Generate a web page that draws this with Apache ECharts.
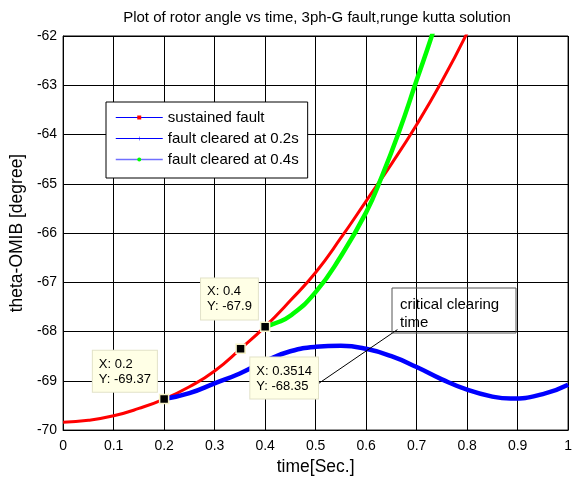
<!DOCTYPE html>
<html>
<head>
    <meta charset="utf-8">
    <title>rotor angle</title>
    <script src="https://cdn.jsdelivr.net/npm/echarts@6/dist/echarts.min.js"></script>
    <style>
        html, body { margin: 0; padding: 0; background: #fff; }
    </style>
</head>
<body>
<div id="main" style="width: 575px;height:481px;"></div>
<script type="text/javascript">
    // values: [time, theta]
    var sustainedT = [0, 0.05, 0.1, 0.15, 0.2, 0.25, 0.3, 0.3514, 0.4, 0.45, 0.5, 0.55, 0.6, 0.65, 0.7, 0.75, 0.8];
    var sustainedV = [-69.84, -69.8, -69.71, -69.56, -69.37, -69.12, -68.8, -68.35, -67.9, -67.37, -66.8, -66.1, -65.35, -64.6, -63.8, -62.92, -61.94];

    var cleared02T = [0.2, 0.25, 0.3, 0.35, 0.4, 0.45, 0.5, 0.55, 0.6, 0.65, 0.7, 0.75, 0.8, 0.85, 0.886, 0.95, 1.0];
    var cleared02V = [-69.37, -69.25, -69.05, -68.85, -68.6, -68.4, -68.31, -68.29, -68.35, -68.5, -68.72, -68.97, -69.18, -69.32, -69.36, -69.27, -69.08];

    var cleared04T = [0.4, 0.42, 0.45, 0.5, 0.55, 0.6, 0.63, 0.665, 0.7, 0.73, 0.74];
    var cleared04V = [-67.9, -67.83, -67.68, -67.2, -66.47, -65.58, -64.88, -63.95, -62.9, -62.0, -61.65];

    // data tips
    var tipT = [0.2, 0.3514, 0.4];
    var tipV = [-69.37, -68.35, -67.9];

    var xTicks = ['0', '0.1', '0.2', '0.3', '0.4', '0.5', '0.6', '0.7', '0.8', '0.9', '1'];

    function pairs(t, v) {
        return t.map(function (x, i) { return [x, v[i]]; });
    }

    var font = '"Liberation Sans", Arial, Helvetica, sans-serif';

    var tipData = tipT.map(function (x, i) {
        var below = (x === 0.3514);
        return {
            value: [x, tipV[i]],
            label: below
                ? { position: [15, 14], align: 'left', verticalAlign: 'top' }
                : { position: [-2, -2], align: 'right', verticalAlign: 'bottom' }
        };
    });

    var myChart = echarts.init(document.getElementById('main'));

    var option = {
        animation: false,
        textStyle: { fontFamily: font },
        title: {
            text: 'Plot of rotor angle vs time, 3ph-G fault,runge kutta solution',
            left: 317,
            top: 10,
            padding: 0,
            textAlign: 'center',
            textStyle: { fontSize: 15, fontWeight: 'normal', color: '#000', fontFamily: font }
        },
        grid: {
            left: 62, right: 2, top: 36, bottom: 45,
            show: true, borderColor: '#000', borderWidth: 1
        },
        legend: {
            orient: 'vertical',
            left: 106,
            top: 102,
            itemWidth: 47,
            itemHeight: 5,
            itemGap: 6,
            padding: [8, 9, 11, 9],
            borderColor: '#000',
            borderWidth: 1,
            borderRadius: 0,
            backgroundColor: '#fff',
            textStyle: { fontSize: 15, color: '#000', fontFamily: font },
            data: [
                { name: 'sustained fault', lineStyle: { color: '#0000ff', width: 1 }, itemStyle: { color: '#ff0000' } },
                { name: 'fault cleared at 0.2s', lineStyle: { color: '#0000ff', width: 1 }, itemStyle: { color: '#0000ff' } },
                { name: 'fault cleared at 0.4s', lineStyle: { color: '#6f6fff', width: 1.5 }, itemStyle: { color: '#00ff00' } }
            ]
        },
        xAxis: {
            type: 'value',
            min: 0, max: 1, interval: 0.1,
            name: 'time[Sec.]',
            nameLocation: 'middle',
            nameGap: 26,
            nameTextStyle: { fontSize: 17.5, color: '#000', fontFamily: font },
            axisLine: { lineStyle: { color: '#000' } },
            axisTick: { show: false },
            axisLabel: {
                fontSize: 14, color: '#000', margin: 9,
                formatter: function (v) { return xTicks[Math.round(v * 10)]; }
            },
            splitLine: { lineStyle: { color: '#000', width: 1 } }
        },
        yAxis: {
            type: 'value',
            min: -70, max: -62, interval: 1,
            name: 'theta-OMIB [degree]',
            nameLocation: 'middle',
            nameGap: 31,
            nameTextStyle: { fontSize: 17.5, color: '#000', fontFamily: font },
            axisLine: { show: true, lineStyle: { color: '#000' } },
            axisTick: { show: false },
            axisLabel: { fontSize: 14, color: '#000', margin: 6 },
            splitLine: { lineStyle: { color: '#000', width: 1 } }
        },
        series: [
            {
                name: 'sustained fault',
                type: 'line',
                smooth: true,
                symbol: 'path://M0,0h4v4h-4z',
                showSymbol: false,
                lineStyle: { color: '#ff0000', width: 3 },
                itemStyle: { color: '#ff0000' },
                data: pairs(sustainedT, sustainedV)
            },
            {
                name: 'fault cleared at 0.2s',
                type: 'line',
                smooth: true,
                symbol: 'path://M4,0h1v4h4v1h-4v4h-1v-4h-4v-1h4z',
                showSymbol: false,
                lineStyle: { color: '#0000ff', width: 4.5 },
                itemStyle: { color: '#0000ff' },
                data: pairs(cleared02T, cleared02V)
            },
            {
                name: 'fault cleared at 0.4s',
                type: 'line',
                smooth: true,
                symbol: 'circle',
                showSymbol: false,
                lineStyle: { color: '#00ff00', width: 4.5 },
                itemStyle: { color: '#00ff00' },
                data: pairs(cleared04T, cleared04V)
            },
            {
                name: 'tips',
                type: 'scatter',
                symbol: 'rect',
                symbolSize: 9,
                z: 10,
                itemStyle: { color: '#000', borderColor: '#f6f2c8', borderWidth: 1.5, opacity: 1 },
                label: {
                    show: true,
                    color: '#000',
                    backgroundColor: '#ffffe6',
                    borderColor: '#e2e2c8',
                    borderWidth: 1,
                    padding: [6, 6, 5, 6],
                    // left aligned lines inside the box
                    formatter: function (p) {
                        return '{t|X: ' + p.value[0] + '}\n{t|Y: ' + p.value[1] + '}';
                    },
                    rich: {
                        t: { fontSize: 13, lineHeight: 15, color: '#000', fontFamily: font, align: 'left' }
                    }
                },
                markLine: {
                    silent: true,
                    symbol: ['none', 'arrow'],
                    symbolSize: [0, 13],
                    label: { show: false },
                    lineStyle: { color: '#000', width: 1, type: 'solid' },
                    data: [[{ coord: [0.495, -69.13] }, { coord: [0.662, -67.96] }]]
                },
                data: tipData
            }
        ],
        // annotation box
        graphic: [
            {
                type: 'rect',
                z: 100,
                shape: { x: 392, y: 288, width: 124, height: 45 },
                style: { fill: 'none', stroke: '#555', lineWidth: 1 }
            },
            {
                type: 'text',
                z: 100,
                x: 400,
                y: 296,
                style: {
                    text: 'critical clearing\ntime',
                    font: '15px ' + font,
                    lineHeight: 18,
                    fill: '#000'
                }
            }
        ]
    };
    myChart.setOption(option);
</script>
</body>
</html>
